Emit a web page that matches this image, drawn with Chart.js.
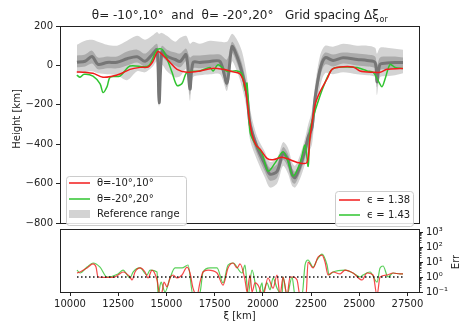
<!DOCTYPE html>
<html>
<head>
<meta charset="utf-8">
<script src="https://cdn.jsdelivr.net/npm/chart.js@4.4.1/dist/chart.umd.min.js"></script>
<style>
  body { margin: 0; background: #fff; }
  #wrap { position: relative; width: 467px; height: 328px; }
  canvas { position: absolute; left: 0; }
  #bottom { top: 200px; }
  #top { top: 0; }
</style>
</head>
<body>
<div id="wrap">
  <canvas id="bottom" width="467" height="128"></canvas>
  <canvas id="top" width="467" height="232"></canvas>
</div>
<script>
// ---- data ----
const X_MIN = 9480
const X_MAX = 28100
const xTicks = [10000, 12500, 15000, 17500, 20000, 22500, 25000, 27500]
const heightTicks = [200, 0, -200, -400, -600, -800]
const errTicks = [0.1, 1, 10, 100, 1000]
const errTickLabels = ['10\u207B\u00B9', '10\u2070', '10\u00B9', '10\u00B2', '10\u00B3']

// theta = -10..10
const redXi = [10350, 10780, 11190, 11710, 12180, 12590, 13110, 13630, 14050, 14300, 14560, 14880, 15190, 15550, 16070, 16740, 17420, 17940, 18460, 18820, 19080, 19290, 19440, 19650, 19860, 20220, 20530, 21000, 21410, 21930, 22290, 22450, 22710, 22970, 23330, 23590, 24000, 24680, 25040, 25720, 26080, 26440, 27120, 27270]
const redH = [-33, -35, -40, -60, -55, -44, -20, -10, -8, 20, 70, 45, 15, -20, -35, -28, -14, -20, -33, -44, -110, -266, -350, -405, -425, -472, -479, -466, -479, -496, -493, -365, -200, -133, -69, -20, -8, -8, -28, -35, -35, -20, -16, -16]

// theta = -20..20
const greenXi = [10350, 10520, 10730, 11190, 11560, 11710, 11920, 12080, 12590, 13110, 14050, 14510, 14770, 14980, 15290, 15550, 15810, 16070, 16740, 17260, 17420, 17680, 18140, 18660, 18920, 19080, 19180, 19340, 19600, 19960, 20270, 20630, 21050, 21310, 21570, 21930, 22190, 22350, 22450, 22600, 22810, 23070, 23380, 23640, 24160, 24890, 25410, 25720, 25980, 26180, 26340, 26600, 26860, 27270]
const greenH = [-49, -60, -45, -54, -94, -138, -108, -60, -54, -3, -3, 79, 82, 46, -35, -102, -92, -35, -28, -11, -28, 3, -30, -28, -44, -126, -90, -340, -398, -447, -537, -496, -438, -488, -562, -496, -404, -512, -330, -266, -200, -126, -53, -16, -8, -11, -28, -35, -77, -108, -69, 5, -11, -16]

// reference range: median, inner and outer envelopes
const refXi = [10360, 10780, 11140, 11450, 11920, 12440, 12960, 13480, 13890, 14250, 14510, 14620, 14770, 15030, 15450, 15710, 16020, 16220, 16380, 16740, 17260, 17780, 18140, 18400, 18660, 18920, 19180, 19340, 19700, 20110, 20370, 20740, 21050, 21310, 21510, 21670, 21930, 22190, 22350, 22550, 22710, 22970, 23230, 23640, 24160, 24890, 25410, 25820, 25920, 26080, 26440, 26860, 27270]
const refMid = [16, 21, 45, 5, 15, 16, 34, 44, 21, 54, 79, -190, 70, 46, 30, 20, 54, -120, 15, 15, 20, 20, -90, 95, 46, -35, -151, -300, -414, -502, -552, -537, -447, -480, -552, -570, -512, -430, -365, -315, -167, -20, 39, 25, 39, 30, 25, 15, -84, 5, 12, 15, 15]
const refInHi = [50, 55, 75, 40, 45, 45, 70, 80, 60, 90, 110, 60, 100, 80, 65, 60, 85, 40, 50, 50, 55, 55, 30, 120, 80, 10, -110, -260, -390, -470, -520, -500, -415, -450, -520, -540, -480, -400, -330, -270, -130, 15, 65, 55, 65, 60, 55, 45, 0, 40, 45, 45, 40]
const refInLo = [-10, -5, 10, -20, -15, -15, 0, 15, -5, 25, 50, -200, 40, 20, 0, -10, 20, -150, -15, -15, -10, -10, -110, 60, 10, -70, -190, -340, -450, -540, -585, -570, -480, -520, -590, -600, -545, -470, -410, -360, -210, -60, 5, -5, 10, 0, -5, -15, -110, -25, -20, -15, -10]
const refOutHi = [105, 125, 130, 120, 105, 100, 125, 150, 130, 150, 170, 160, 165, 150, 120, 140, 150, 110, 120, 110, 125, 120, 120, 160, 130, 70, -60, -220, -360, -440, -490, -470, -390, -420, -490, -510, -455, -370, -300, -230, -100, 50, 100, 95, 110, 100, 100, 90, 60, 90, 90, 85, 80]
const refOutLo = [-40, -35, -30, -40, -45, -50, -75, -30, -35, -10, 20, -210, 0, -30, -60, -55, -20, -180, -60, -50, -45, -45, -130, 20, -30, -110, -230, -380, -480, -570, -620, -600, -510, -550, -610, -620, -575, -500, -450, -400, -250, -110, -40, -45, -35, -45, -50, -60, -150, -60, -55, -50, -40]

// error curves (log scale)
const redErrXi = [10363, 10519, 10882, 11193, 11349, 11452, 11712, 12230, 12490, 12749, 13112, 13216, 13371, 13631, 13890, 14046, 14253, 14513, 14668, 14772, 14876, 15031, 15187, 15343, 15550, 15810, 16069, 16224, 16380, 16587, 16743, 16898, 17158, 17625, 17936, 18196, 18455, 18663, 18818, 19077, 19181, 19337, 19440, 19596, 19751, 20011, 20270, 20530, 20737, 20893, 21048, 21256, 21411, 21567, 21774, 21930, 22241, 22345, 22604, 22864, 23071, 23227, 23383, 23642, 24005, 24265, 24679, 25146, 25406, 25716, 25923, 26080, 26443, 26754, 27117, 27272]
const redErr = [1.85, 2.15, 4.0, 7.4, 4.6, 1.0, 0.93, 0.93, 1.36, 2.15, 1.0, 0.63, 2.15, 4.0, 2.15, 0.86, 2.9, 0.63, 0.06, 0.1, 0.46, 0.22, 0.86, 1.36, 0.86, 1.36, 4.6, 1.85, 0.18, 0.06, 0.46, 2.15, 2.9, 1.85, 0.29, 4.0, 8.6, 4.0, 7.4, 0.63, 0.1, 1.36, 0.1, 0.4, 0.29, 0.06, 0.86, 0.18, 1.36, 0.06, 1.0, 0.06, 1.0, 1.0, 0.63, 0.06, 0.06, 10, 4, 21.5, 29, 10, 1.36, 2.15, 1.6, 2.9, 1.85, 0.63, 1.85, 1.36, 0.06, 1.0, 1.36, 1.85, 1.6, 1.6]
const greenErrXi = [10363, 10519, 10882, 11193, 11556, 11919, 12490, 12749, 13112, 13268, 13631, 13994, 14150, 14513, 14565, 14720, 14928, 15187, 15446, 15810, 16120, 16380, 16743, 16898, 17262, 17625, 17936, 18196, 18455, 18922, 19077, 19233, 19440, 19751, 19959, 20011, 20218, 20374, 20530, 20737, 20997, 21048, 21256, 21515, 21671, 22034, 22189, 22345, 22604, 22812, 23071, 23331, 23434, 23642, 24265, 24679, 25042, 25198, 25560, 25923, 26080, 26235, 26495, 26754, 27117, 27272]
const greenErr = [2.9, 1.85, 4.6, 8.6, 4.6, 1.0, 1.6, 2.9, 0.86, 2.15, 4.0, 1.36, 2.9, 2.15, 0.06, 0.46, 0.1, 0.86, 4.0, 4.0, 6.3, 0.06, 0.1, 2.15, 4.0, 4.0, 0.4, 6.3, 8.6, 1.85, 6.3, 0.06, 2.9, 0.06, 0.4, 0.1, 0.4, 0.14, 0.86, 0.18, 0.06, 1.0, 0.06, 1.0, 0.06, 0.06, 6.3, 13.6, 4.6, 13.6, 34, 6.3, 1.36, 2.15, 2.9, 1.85, 1.0, 1.36, 2.15, 0.46, 4.0, 5.4, 1.0, 1.85, 1.6, 1.6]
const unitXi = [10363, 27272]
const unitErr = [1, 1]

// ---- styling ----
const FONT = 'DejaVu Sans'
const FS = 10
const INK = '#222'
const RED = '#f21b1b'
const GREEN = '#2fc42f'
const LIGHT = '#d3d3d3'
const MID = '#ababab'
const DARK = '#767676'

Chart.defaults.font.family = FONT
Chart.defaults.font.size = FS
Chart.defaults.color = INK
Chart.defaults.animation = false

const pts = (xs, ys) => xs.map((x, i) => ({ x: x, y: ys[i] }))
const fmtMinus = v => (v < 0 ? '\u2212' + Math.abs(v) : String(v))

// axis box around each panel
const frame = {
  id: 'frame',
  afterDraw(chart) {
    const a = chart.chartArea
    const ctx = chart.ctx
    ctx.save()
    ctx.strokeStyle = INK
    ctx.lineWidth = 1
    ctx.strokeRect(Math.round(a.left) + 0.5, Math.round(a.top) + 0.5,
      Math.round(a.right - a.left), Math.round(a.bottom - a.top))
    ctx.restore()
  }
}

function legendBox(ctx, x, y, w, h) {
  ctx.save()
  ctx.fillStyle = 'rgba(255,255,255,0.85)'
  ctx.strokeStyle = '#cccccc'
  ctx.lineWidth = 1
  ctx.beginPath()
  ctx.roundRect(x + 0.5, y + 0.5, w, h, 3)
  ctx.fill()
  ctx.stroke()
  ctx.restore()
}

function legendLine(ctx, x, y, color, text) {
  ctx.save()
  ctx.strokeStyle = color
  ctx.lineWidth = 1.5
  ctx.beginPath()
  ctx.moveTo(x, y)
  ctx.lineTo(x + 21, y)
  ctx.stroke()
  ctx.fillStyle = INK
  ctx.font = FS + 'px ' + FONT
  ctx.textBaseline = 'middle'
  ctx.fillText(text, x + 28, y + 0.5)
  ctx.restore()
}

// title, axis label and the two legends of the height panel
const heightDecor = {
  id: 'heightDecor',
  afterDraw(chart) {
    const ctx = chart.ctx
    const a = chart.chartArea
    ctx.save()
    ctx.fillStyle = INK
    const main = '\u03B8= -10\u00B0,10\u00B0  and  \u03B8= -20\u00B0,20\u00B0   Grid spacing \u0394\u03BE'
    const sub = 'or'
    ctx.font = '12px ' + FONT
    const wMain = ctx.measureText(main).width
    ctx.font = '8px ' + FONT
    const wSub = ctx.measureText(sub).width
    const x0 = (a.left + a.right) / 2 - (wMain + wSub) / 2
    ctx.textBaseline = 'alphabetic'
    ctx.font = '12px ' + FONT
    ctx.fillText(main, x0, 19)
    ctx.font = '8px ' + FONT
    ctx.fillText(sub, x0 + wMain + 0.5, 21.5)

    // y axis label
    ctx.font = FS + 'px ' + FONT
    ctx.textAlign = 'center'
    ctx.textBaseline = 'middle'
    ctx.translate(17, 119)
    ctx.rotate(-Math.PI / 2)
    ctx.fillText('Height [km]', 0, 0)
    ctx.restore()

    // left legend
    legendBox(ctx, 66, 176, 120, 49)
    legendLine(ctx, 69, 183, RED, '\u03B8=-10\u00B0,10\u00B0')
    legendLine(ctx, 69, 199, GREEN, '\u03B8=-20\u00B0,20\u00B0')
    ctx.save()
    ctx.fillStyle = LIGHT
    ctx.fillRect(69, 210, 21, 8)
    ctx.fillStyle = INK
    ctx.font = FS + 'px ' + FONT
    ctx.textBaseline = 'middle'
    ctx.fillText('Reference range', 97, 214.5)
    ctx.restore()

    // right legend
    legendBox(ctx, 335, 191, 78, 35)
    legendLine(ctx, 339, 200, RED, '\u03F5 = 1.38')
    legendLine(ctx, 339, 215, GREEN, '\u03F5 = 1.43')
  }
}

// minor log ticks and axis labels of the error panel
const errDecor = {
  id: 'errDecor',
  afterDraw(chart) {
    const ctx = chart.ctx
    const a = chart.chartArea
    const y = chart.scales.y
    ctx.save()
    ctx.strokeStyle = INK
    ctx.lineWidth = 0.8
    for (let d = 0.1; d < 2000; d *= 10) {
      for (let k = 2; k <= 9; k++) {
        const v = d * k
        if (v > y.max) continue
        const py = Math.round(y.getPixelForValue(v)) + 0.5
        ctx.beginPath()
        ctx.moveTo(a.right, py)
        ctx.lineTo(a.right + 2.5, py)
        ctx.stroke()
      }
    }
    ctx.fillStyle = INK
    ctx.font = FS + 'px ' + FONT
    ctx.textAlign = 'center'
    ctx.textBaseline = 'middle'
    ctx.fillText('\u03BE [km]', (a.left + a.right) / 2, 116)
    ctx.translate(456, 62)
    ctx.rotate(-Math.PI / 2)
    ctx.fillText('Err', 0, 0)
    ctx.restore()
  }
}

const bandLine = (label, xs, ys, extra) => Object.assign({
  label: label,
  data: pts(xs, ys),
  borderWidth: 0,
  pointRadius: 0,
  tension: 0.3,
  fill: false
}, extra)

// ---- height panel ----
new Chart(document.getElementById('top'), {
  type: 'line',
  data: {
    datasets: [
      { label: '\u03B8=-10\u00B0,10\u00B0', data: pts(redXi, redH), borderColor: RED, borderWidth: 1.5, pointRadius: 0, tension: 0.3, fill: false },
      { label: '\u03B8=-20\u00B0,20\u00B0', data: pts(greenXi, greenH), borderColor: GREEN, borderWidth: 1.5, pointRadius: 0, tension: 0.3, fill: false },
      bandLine('median', refXi, refMid, { borderColor: DARK, borderWidth: 3 }),
      bandLine('inner hi', refXi, refInHi, { fill: '+1', backgroundColor: MID }),
      bandLine('inner lo', refXi, refInLo),
      bandLine('outer hi', refXi, refOutHi, { fill: '+1', backgroundColor: LIGHT }),
      bandLine('outer lo', refXi, refOutLo)
    ]
  },
  options: {
    responsive: false,
    devicePixelRatio: 1,
    layout: { padding: { left: 0, top: 26, right: 48, bottom: 3 } },
    plugins: { legend: { display: false }, tooltip: { enabled: false } },
    scales: {
      x: { type: 'linear', min: X_MIN, max: X_MAX, display: false },
      y: {
        type: 'linear',
        min: -800,
        max: 200,
        afterBuildTicks: s => { s.ticks = heightTicks.map(v => ({ value: v })) },
        afterFit: s => { s.width = 60 },
        ticks: { callback: v => fmtMinus(v), padding: 3, color: INK },
        grid: { drawOnChartArea: false, tickLength: 4, color: INK, tickWidth: 1 },
        border: { display: true, color: INK }
      }
    }
  },
  plugins: [frame, heightDecor]
})

// ---- error panel ----
new Chart(document.getElementById('bottom'), {
  type: 'line',
  data: {
    datasets: [
      { label: 'unit', data: pts(unitXi, unitErr), borderColor: '#111', borderWidth: 1.5, borderDash: [1.5, 2.5], pointRadius: 0, fill: false },
      { label: 'err -10,10', data: pts(redErrXi, redErr), borderColor: 'rgba(242,27,27,0.8)', borderWidth: 1.2, pointRadius: 0, cubicInterpolationMode: 'monotone', fill: false },
      { label: 'err -20,20', data: pts(greenErrXi, greenErr), borderColor: 'rgba(47,196,47,0.8)', borderWidth: 1.2, pointRadius: 0, cubicInterpolationMode: 'monotone', fill: false }
    ]
  },
  options: {
    responsive: false,
    devicePixelRatio: 1,
    layout: { padding: { left: 60, top: 29, right: 0, bottom: 0 } },
    plugins: { legend: { display: false }, tooltip: { enabled: false } },
    scales: {
      x: {
        type: 'linear',
        min: X_MIN,
        max: X_MAX,
        afterBuildTicks: s => { s.ticks = xTicks.map(v => ({ value: v })) },
        afterFit: s => { s.height = 36 },
        ticks: { callback: v => String(v), padding: 2, maxRotation: 0, autoSkip: false, color: INK },
        grid: { drawOnChartArea: false, tickLength: 4, color: INK },
        border: { display: true, color: INK }
      },
      y: {
        type: 'logarithmic',
        position: 'right',
        min: 0.1,
        max: 1585,
        afterBuildTicks: s => { s.ticks = errTicks.map(v => ({ value: v })) },
        afterFit: s => { s.width = 48 },
        ticks: { callback: (v, i) => errTickLabels[i], padding: 3, color: INK },
        grid: { drawOnChartArea: false, tickLength: 4, color: INK },
        border: { display: true, color: INK }
      }
    }
  },
  plugins: [frame, errDecor]
})
</script>
</body>
</html>
